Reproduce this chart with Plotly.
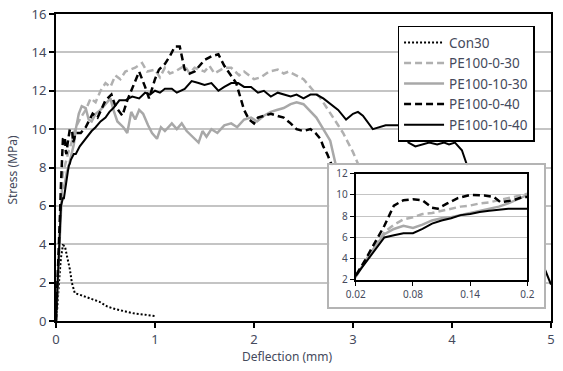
import plotly.graph_objects as go

# ---------------- data ----------------
con30_x = [0, 0.01, 0.03, 0.05, 0.07, 0.09, 0.11, 0.14, 0.16, 0.19, 0.25, 0.3, 0.37, 0.44, 0.52, 0.6, 0.7, 0.8, 0.9, 1.0]
con30_y = [0, 0.5, 2.0, 3.3, 3.95, 3.9, 3.4, 2.7, 2.0, 1.45, 1.35, 1.25, 1.15, 1.0, 0.75, 0.62, 0.5, 0.38, 0.33, 0.26]

pe0_30_x = [0, 0.02, 0.035, 0.05, 0.06, 0.07, 0.08, 0.09, 0.1, 0.11, 0.12, 0.13, 0.14, 0.15, 0.16, 0.17, 0.18, 0.19, 0.2,
            0.25, 0.3, 0.35, 0.4, 0.45, 0.5, 0.55, 0.6, 0.65, 0.7, 0.75, 0.8, 0.87, 0.92, 1.0, 1.05, 1.1, 1.15, 1.2,
            1.3, 1.35, 1.4, 1.5, 1.55, 1.6, 1.7, 1.77, 1.85, 1.9, 2.0, 2.07, 2.15, 2.24, 2.3, 2.35, 2.43, 2.5, 2.55,
            2.6, 2.66, 2.72, 2.8, 2.85, 2.9, 2.95, 3.0, 3.05, 3.1, 3.15]
pe0_30_y = [0, 2.3, 4.5, 6.5, 7.2, 7.7, 7.9, 8.2, 8.3, 8.5, 8.7, 8.9, 9.0, 9.2, 9.3, 9.5, 9.7, 9.9, 10.1,
            10.6, 11.0, 11.6, 11.4, 12.0, 12.4, 12.2, 12.8, 12.6, 13.0, 13.1, 13.2, 13.45, 13.0, 13.1, 12.7, 13.2, 12.9, 13.0,
            13.3, 12.9, 13.2, 13.0, 13.3, 12.9, 13.2, 13.2, 12.8, 13.0, 12.6, 12.7, 13.0, 13.1, 12.9, 13.0, 12.8, 12.6, 12.3,
            12.0, 11.7, 11.2, 10.6, 10.2, 9.8, 9.3, 8.8, 8.2, 7.6, 7.0]

pe10_30_x = [0, 0.02, 0.035, 0.05, 0.06, 0.07, 0.08, 0.09, 0.1, 0.11, 0.12, 0.13, 0.14, 0.15, 0.16, 0.17, 0.18, 0.19, 0.2,
             0.23, 0.26, 0.3, 0.33, 0.36, 0.4, 0.45, 0.5, 0.55, 0.58, 0.62, 0.68, 0.72, 0.76, 0.8, 0.84, 0.88, 0.93, 0.97,
             1.02, 1.06, 1.1, 1.17, 1.22, 1.27, 1.32, 1.38, 1.44, 1.48, 1.52, 1.57, 1.63, 1.7, 1.77, 1.83, 1.9, 1.97,
             2.03, 2.1, 2.17, 2.23, 2.3, 2.37, 2.43, 2.5, 2.56, 2.63, 2.7, 2.77, 2.81, 2.85]
pe10_30_y = [0, 2.3, 4.5, 6.3, 6.8, 7.1, 6.9, 7.2, 7.6, 7.8, 7.9, 8.1, 8.3, 8.5, 8.7, 8.9, 9.2, 9.6, 10.0,
             10.8, 11.2, 11.1, 10.5, 10.4, 10.8, 11.0, 11.3, 11.6, 11.0, 10.4, 10.1, 9.8, 10.9, 10.5, 11.0, 10.8, 10.2, 9.8,
             9.5, 10.1, 9.9, 10.3, 10.0, 10.3, 9.9, 9.6, 9.3, 9.9, 9.6, 10.0, 9.8, 10.2, 10.3, 10.1, 10.5, 10.6,
             10.4, 10.7, 10.9, 11.0, 11.1, 11.3, 11.4, 11.3, 11.0, 10.6, 10.0, 9.4, 8.5, 7.6]

pe0_40_x = [0, 0.02, 0.03, 0.04, 0.05, 0.06, 0.07, 0.08, 0.09, 0.1, 0.106, 0.116, 0.127, 0.14, 0.155, 0.165, 0.172, 0.185, 0.195, 0.2,
            0.25, 0.3, 0.37, 0.42, 0.5, 0.56, 0.6, 0.67, 0.72, 0.8, 0.84, 0.9, 0.94, 1.0, 1.04, 1.1, 1.15, 1.2, 1.25,
            1.3, 1.35, 1.4, 1.45, 1.5, 1.57, 1.64, 1.7, 1.77, 1.82, 1.86, 1.9, 1.95, 2.0, 2.04, 2.1, 2.17, 2.23, 2.3,
            2.37, 2.43, 2.5, 2.57, 2.62, 2.67, 2.7, 2.74, 2.78, 2.82]
pe0_40_y = [0, 2.4, 3.9, 5.5, 7.1, 9.0, 9.5, 9.6, 9.5, 8.8, 8.7, 9.2, 9.7, 10.0, 9.95, 9.8, 9.3, 9.5, 9.8, 9.8,
            9.8, 10.1, 10.8, 10.6, 11.5, 11.8, 11.2, 10.7, 11.5, 12.5, 13.0, 12.2, 11.6, 12.6, 13.1, 13.4, 13.8, 14.3, 14.3,
            13.1, 12.9, 13.0, 13.3, 13.6, 13.8, 13.9, 13.3, 12.8, 12.4, 11.7, 11.0, 10.5, 10.3, 10.6, 10.7, 10.8, 10.7, 10.6,
            10.3, 10.0, 9.9, 10.0, 9.8, 9.5, 9.1, 8.7, 8.2, 7.6]

pe10_40_x = [0, 0.02, 0.035, 0.05, 0.06, 0.07, 0.08, 0.09, 0.1, 0.11, 0.12, 0.13, 0.14, 0.15, 0.16, 0.17, 0.18, 0.19, 0.2,
             0.24, 0.27, 0.32, 0.36, 0.4, 0.45, 0.5, 0.54, 0.58, 0.64, 0.7, 0.77, 0.84, 0.9, 0.95, 1.0, 1.05, 1.1, 1.17,
             1.22, 1.3, 1.37, 1.44, 1.5, 1.57, 1.64, 1.7, 1.77, 1.84, 1.9, 1.97, 2.04, 2.1, 2.17, 2.24, 2.3, 2.37, 2.43,
             2.5, 2.57, 2.63, 2.7, 2.77, 2.85, 2.93, 3.0, 3.05, 3.1, 3.2, 3.27, 3.33, 3.4, 3.5, 3.53, 3.56, 3.63, 3.7,
             3.77, 3.85, 3.92, 3.97, 4.03, 4.1, 4.16, 4.3, 4.5, 4.7, 4.85, 4.93, 5.0]
pe10_40_y = [0, 2.4, 4.3, 6.0, 6.2, 6.4, 6.4, 6.8, 7.3, 7.6, 7.8, 8.1, 8.2, 8.4, 8.5, 8.6, 8.7, 8.7, 8.7,
             9.1, 9.3, 9.6, 9.9, 10.1, 10.4, 10.6, 10.9, 11.1, 11.5, 11.5, 11.7, 11.6, 11.9, 11.8, 12.0, 11.9, 12.1, 12.1,
             11.9, 12.1, 12.5, 12.4, 12.3, 12.4, 12.0, 12.2, 12.4, 12.4, 12.2, 12.2, 11.9, 12.0, 11.7, 11.9, 11.8, 11.7, 11.8,
             11.6, 11.8, 11.8, 11.6, 11.3, 11.0, 10.5, 10.8, 10.9, 10.7, 10.0, 10.1, 10.2, 10.2, 10.2, 9.8, 9.3, 9.1, 9.2,
             9.3, 9.2, 9.3, 9.2, 9.3, 8.9, 8.0, 7.0, 5.6, 4.4, 3.4, 2.8, 1.9]

main_x_ticks = [0, 1, 2, 3, 4, 5]
main_y_ticks = [0, 2, 4, 6, 8, 10, 12, 14, 16]
inset_x_ticks = [0.02, 0.08, 0.14, 0.2]
inset_x_labels = ["0.02", "0.08", "0.14", "0.2"]
inset_y_ticks = [2, 4, 6, 8, 10, 12]

# ---------------- styles ----------------
TXT = "#454a5c"
FONT = "Noto Sans"
series = [
    ("Con30", con30_x, con30_y, dict(color="black", width=2, dash="2px,2px"), False),
    ("PE100-0-30", pe0_30_x, pe0_30_y, dict(color="#b0b0b0", width=2.5, dash="7px,4px"), True),
    ("PE100-10-30", pe10_30_x, pe10_30_y, dict(color="#a8a8a8", width=2.5), True),
    ("PE100-0-40", pe0_40_x, pe0_40_y, dict(color="black", width=2.5, dash="7px,4px"), True),
    ("PE100-10-40", pe10_40_x, pe10_40_y, dict(color="black", width=2), True),
]

fig = go.Figure()
for name, x, y, line, _ in series:
    fig.add_trace(go.Scatter(x=x, y=y, mode="lines", name=name, line=line,
                             xaxis="x", yaxis="y", hoverinfo="skip"))

# white frame of the inset (empty subplot that masks the main chart)
fig.add_trace(go.Scatter(x=[], y=[], xaxis="x2", yaxis="y2", showlegend=False, hoverinfo="skip"))

for name, x, y, line, inset in series:
    if inset:
        fig.add_trace(go.Scatter(x=x, y=y, mode="lines", name=name, line=line,
                                 xaxis="x3", yaxis="y3", showlegend=False, hoverinfo="skip"))

fig.update_layout(
    width=563, height=371,
    margin=dict(l=56, r=5, t=14, b=50),
    paper_bgcolor="white", plot_bgcolor="white",
    font=dict(family=FONT, color=TXT),
    showlegend=True,
    legend=dict(x=0.69, y=0.962, xanchor="left", yanchor="top",
                bgcolor="white", bordercolor="black", borderwidth=1.5,
                font=dict(size=13.5, color=TXT, family=FONT),
                itemwidth=40, tracegroupgap=0),
    xaxis=dict(domain=[0, 1], range=[0, 5], tickvals=main_x_ticks,
               showgrid=False, zeroline=False,
               showline=True, linecolor="black", linewidth=2, mirror=True,
               ticks="outside", ticklen=5, tickcolor="black", tickwidth=1.5,
               tickfont=dict(size=13, color=TXT)),
    yaxis=dict(domain=[0, 1], range=[0, 16], tickvals=main_y_ticks,
               showgrid=True, gridcolor="#c4c4c4", gridwidth=1.5, zeroline=False,
               showline=True, linecolor="black", linewidth=2, mirror=True,
               ticks="outside", ticklen=5, tickcolor="black", tickwidth=1.5,
               tickfont=dict(size=13, color=TXT)),
    xaxis2=dict(domain=[0.5518, 0.986], anchor="y2", range=[0, 1],
                showticklabels=False, showgrid=False, zeroline=False, ticks="",
                showline=True, linecolor="#b4b4b4", linewidth=1.5, mirror=True),
    yaxis2=dict(domain=[0.0456, 0.508], anchor="x2", range=[0, 1],
                showticklabels=False, showgrid=False, zeroline=False, ticks="",
                showline=True, linecolor="#b4b4b4", linewidth=1.5, mirror=True),
    xaxis3=dict(domain=[0.6056, 0.9522], anchor="y3", range=[0.02, 0.2],
                tickvals=inset_x_ticks, ticktext=inset_x_labels,
                showgrid=False, zeroline=False,
                showline=True, linecolor="black", linewidth=2, mirror=True,
                ticks="outside", ticklen=4, tickcolor="black",
                tickfont=dict(size=10, color=TXT)),
    yaxis3=dict(domain=[0.1336, 0.48], anchor="x3", range=[2, 12],
                tickvals=inset_y_ticks,
                showgrid=True, gridcolor="#c4c4c4", gridwidth=1, zeroline=False,
                showline=True, linecolor="black", linewidth=2, mirror=True,
                ticks="outside", ticklen=4, tickcolor="black",
                tickfont=dict(size=10, color=TXT)),
    annotations=[
        dict(text="Stress (MPa)", xref="paper", yref="paper", x=-0.0876, y=0.492,
             xanchor="center", yanchor="middle",
             textangle=-90, showarrow=False, font=dict(size=12, color=TXT)),
        dict(text="Deflection (mm)", xref="paper", yref="paper", x=0.468, y=-0.117,
             xanchor="center", yanchor="middle",
             showarrow=False, font=dict(size=12, color=TXT)),
    ],
)

fig.write_html("out.html")
